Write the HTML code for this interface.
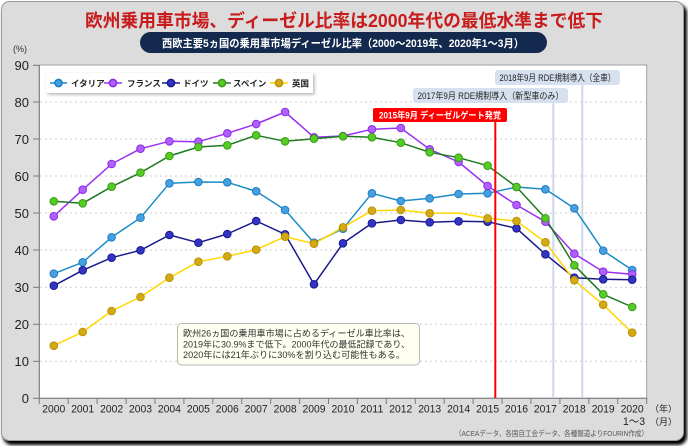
<!DOCTYPE html>
<html><head><meta charset="utf-8"><style>
html,body{margin:0;padding:0;background:#fff;}
svg{display:block;}
text{font-family:"Liberation Sans","Noto Sans CJK JP",sans-serif;}
</style></head><body>
<svg width="688" height="446" viewBox="0 0 688 446" xmlns="http://www.w3.org/2000/svg">
<defs>
<filter id="sh" x="-5%" y="-5%" width="110%" height="110%"><feGaussianBlur stdDeviation="1.5"/></filter>
<filter id="lsh" x="-10%" y="-30%" width="120%" height="160%"><feDropShadow dx="1.5" dy="1.5" stdDeviation="1.5" flood-color="#000" flood-opacity="0.3"/></filter>
</defs>
<rect x="3" y="4" width="684" height="441" rx="9" fill="#000" filter="url(#sh)"/>
<rect x="1.5" y="1.5" width="682" height="439" rx="8" fill="#dcdcdc" stroke="#9a9a9a"/>

<text x="344" y="27" text-anchor="middle" font-size="18" font-weight="bold" fill="#c81c1c" textLength="518" lengthAdjust="spacingAndGlyphs">欧州乗用車市場、ディーゼル比率は2000年代の最低水準まで低下</text>
<rect x="140" y="32" width="407" height="21" rx="10.5" fill="#13294e"/>
<text x="343" y="47" text-anchor="middle" font-size="11" font-weight="bold" fill="#fff" textLength="362" lengthAdjust="spacingAndGlyphs">西欧主要5ヵ国の乗用車市場ディーゼル比率（2000～2019年、2020年1～3月）</text>
<text x="13" y="52" font-size="9" fill="#333">(%)</text>

<rect x="39.3" y="65" width="607.4" height="333.3" fill="#fff" stroke="#a0a0a0" stroke-width="1"/>
<g stroke="#cfcfcf" stroke-dasharray="2,3" stroke-width="1">
<line x1="40" y1="102" x2="646" y2="102"/>
<line x1="40" y1="139" x2="646" y2="139"/>
<line x1="40" y1="176" x2="646" y2="176"/>
<line x1="40" y1="213" x2="646" y2="213"/>
<line x1="40" y1="250" x2="646" y2="250"/>
<line x1="40" y1="287.3" x2="646" y2="287.3"/>
<line x1="40" y1="324.3" x2="646" y2="324.3"/>
<line x1="40" y1="361.3" x2="646" y2="361.3"/>
</g>
<g stroke="#7a7a7a" stroke-width="1">
<line x1="39.3" y1="65" x2="39.3" y2="398.3"/>
<line x1="39.3" y1="398.3" x2="646.7" y2="398.3"/>
<line x1="33" y1="65.3" x2="39" y2="65.3"/>
<line x1="33" y1="102" x2="39" y2="102"/>
<line x1="33" y1="139" x2="39" y2="139"/>
<line x1="33" y1="176" x2="39" y2="176"/>
<line x1="33" y1="213" x2="39" y2="213"/>
<line x1="33" y1="250" x2="39" y2="250"/>
<line x1="33" y1="287.3" x2="39" y2="287.3"/>
<line x1="33" y1="324.3" x2="39" y2="324.3"/>
<line x1="33" y1="361.3" x2="39" y2="361.3"/>
<line x1="33" y1="398.3" x2="39" y2="398.3"/>
</g>
<g stroke="#7a7a7a" stroke-width="1">
<line x1="39.3" y1="398" x2="39.3" y2="404"/><line x1="68.2" y1="398" x2="68.2" y2="404"/><line x1="97.1" y1="398" x2="97.1" y2="404"/><line x1="126.1" y1="398" x2="126.1" y2="404"/><line x1="155" y1="398" x2="155" y2="404"/><line x1="183.9" y1="398" x2="183.9" y2="404"/><line x1="212.8" y1="398" x2="212.8" y2="404"/><line x1="241.7" y1="398" x2="241.7" y2="404"/><line x1="270.7" y1="398" x2="270.7" y2="404"/><line x1="299.6" y1="398" x2="299.6" y2="404"/><line x1="328.5" y1="398" x2="328.5" y2="404"/><line x1="357.4" y1="398" x2="357.4" y2="404"/><line x1="386.3" y1="398" x2="386.3" y2="404"/><line x1="415.3" y1="398" x2="415.3" y2="404"/><line x1="444.2" y1="398" x2="444.2" y2="404"/><line x1="473.1" y1="398" x2="473.1" y2="404"/><line x1="502" y1="398" x2="502" y2="404"/><line x1="530.9" y1="398" x2="530.9" y2="404"/><line x1="559.9" y1="398" x2="559.9" y2="404"/><line x1="588.8" y1="398" x2="588.8" y2="404"/><line x1="617.7" y1="398" x2="617.7" y2="404"/><line x1="646.7" y1="398" x2="646.7" y2="404"/>
</g>
<g font-size="13" fill="#222" text-anchor="end">
<text x="29" y="70">90</text><text x="29" y="107">80</text><text x="29" y="144">70</text><text x="29" y="181">60</text><text x="29" y="218">50</text><text x="29" y="255">40</text><text x="29" y="292">30</text><text x="29" y="329">20</text><text x="29" y="366">10</text><text x="29" y="403">0</text>
</g>
<g font-size="11" fill="#222" text-anchor="middle">
<text x="53.8" y="412.5" textLength="23" lengthAdjust="spacingAndGlyphs">2000</text>
<text x="82.7" y="412.5" textLength="23" lengthAdjust="spacingAndGlyphs">2001</text>
<text x="111.6" y="412.5" textLength="23" lengthAdjust="spacingAndGlyphs">2002</text>
<text x="140.5" y="412.5" textLength="23" lengthAdjust="spacingAndGlyphs">2003</text>
<text x="169.4" y="412.5" textLength="23" lengthAdjust="spacingAndGlyphs">2004</text>
<text x="198.4" y="412.5" textLength="23" lengthAdjust="spacingAndGlyphs">2005</text>
<text x="227.3" y="412.5" textLength="23" lengthAdjust="spacingAndGlyphs">2006</text>
<text x="256.2" y="412.5" textLength="23" lengthAdjust="spacingAndGlyphs">2007</text>
<text x="285.1" y="412.5" textLength="23" lengthAdjust="spacingAndGlyphs">2008</text>
<text x="314" y="412.5" textLength="23" lengthAdjust="spacingAndGlyphs">2009</text>
<text x="343" y="412.5" textLength="23" lengthAdjust="spacingAndGlyphs">2010</text>
<text x="371.9" y="412.5" textLength="23" lengthAdjust="spacingAndGlyphs">2011</text>
<text x="400.8" y="412.5" textLength="23" lengthAdjust="spacingAndGlyphs">2012</text>
<text x="429.7" y="412.5" textLength="23" lengthAdjust="spacingAndGlyphs">2013</text>
<text x="458.6" y="412.5" textLength="23" lengthAdjust="spacingAndGlyphs">2014</text>
<text x="487.6" y="412.5" textLength="23" lengthAdjust="spacingAndGlyphs">2015</text>
<text x="516.5" y="412.5" textLength="23" lengthAdjust="spacingAndGlyphs">2016</text>
<text x="545.4" y="412.5" textLength="23" lengthAdjust="spacingAndGlyphs">2017</text>
<text x="574.3" y="412.5" textLength="23" lengthAdjust="spacingAndGlyphs">2018</text>
<text x="603.2" y="412.5" textLength="23" lengthAdjust="spacingAndGlyphs">2019</text>
<text x="632.2" y="412.5" textLength="23" lengthAdjust="spacingAndGlyphs">2020</text>
</g>
<g font-size="9" fill="#222">
<text x="650" y="412">（年）</text>
<text x="623" y="425" font-size="11" textLength="22" lengthAdjust="spacingAndGlyphs">1～3</text>
<text x="650" y="425">（月）</text>
</g>
<text x="455" y="436" font-size="7.5" fill="#555" textLength="193" lengthAdjust="spacingAndGlyphs">（ACEAデータ、各国自工会データ、各種報道よりFOURIN作成）</text>

<!-- RDE lines -->
<line x1="553.3" y1="103" x2="553.3" y2="398" stroke="#cdd8ea" stroke-width="2"/>
<line x1="582.3" y1="85" x2="582.3" y2="398" stroke="#cdd8ea" stroke-width="2"/>
<rect x="495" y="70" width="125" height="15" rx="3" fill="#d6e0ee"/>
<text x="557.5" y="81" text-anchor="middle" font-size="9" fill="#222" textLength="116" lengthAdjust="spacingAndGlyphs">2018年9月 RDE規制導入（全車）</text>
<rect x="413" y="88" width="155" height="15" rx="3" fill="#d6e0ee"/>
<text x="490.5" y="99" text-anchor="middle" font-size="9" fill="#222" textLength="146" lengthAdjust="spacingAndGlyphs">2017年9月 RDE規制導入（新型車のみ）</text>

<!-- legend -->
<rect x="46" y="73" width="267" height="20" fill="#fff" filter="url(#lsh)"/>
<g stroke-width="1.5">
<line x1="50" y1="83" x2="67" y2="83" stroke="#1a8cc8"/><circle cx="58.5" cy="83" r="3.6" fill="#44a0e0" stroke="#1f7cc0"/>
<line x1="104" y1="83" x2="122" y2="83" stroke="#9b30f0"/><circle cx="113" cy="83" r="3.6" fill="#b060ff" stroke="#8a2be2"/>
<line x1="162" y1="83" x2="180" y2="83" stroke="#1a1a8c"/><circle cx="171" cy="83" r="3.6" fill="#3434c4" stroke="#1a1a90"/>
<line x1="213" y1="83" x2="231" y2="83" stroke="#1f7a1f"/><circle cx="222" cy="83" r="3.6" fill="#55cc22" stroke="#3a9a1a"/>
<line x1="270" y1="83" x2="288" y2="83" stroke="#ffd700"/><circle cx="279" cy="83" r="3.6" fill="#d4aa10" stroke="#b8900a"/>
</g>
<g font-size="8.5" font-weight="bold" fill="#222">
<text x="71" y="86.5">イタリア</text>
<text x="127" y="86.5">フランス</text>
<text x="183" y="86.5">ドイツ</text>
<text x="233" y="86.5">スペイン</text>
<text x="292" y="86.5">英国</text>
</g>

<!-- series -->
<g fill="none" stroke-width="1.5" stroke-linejoin="round">
<polyline stroke="#1a8cc8" points="53.8,273.7 82.7,262.3 111.6,237.3 140.5,217.7 169.4,183.3 198.4,182 227.3,182.3 256.2,191.3 285.1,210 314,242.7 343,228.7 371.9,193.3 400.8,201 429.7,198.3 458.6,194 487.6,193.3 516.5,187 545.4,189.3 574.3,208.3 603.2,250.7 632.2,270"/>
<polyline stroke="#9b30f0" points="53.8,216.3 82.7,189.7 111.6,164 140.5,148.7 169.4,141.3 198.4,141.7 227.3,133.3 256.2,124 285.1,112 314,137.3 343,136 371.9,129.3 400.8,128 429.7,149.3 458.6,162 487.6,186 516.5,205 545.4,221.7 574.3,253.7 603.2,271.7 632.2,274.3"/>
<polyline stroke="#1a1a8c" points="53.8,285.7 82.7,270.3 111.6,257.7 140.5,250.3 169.4,235 198.4,242.7 227.3,234 256.2,221 285.1,234.3 314,284.3 343,243.3 371.9,223.3 400.8,220 429.7,222.3 458.6,221.3 487.6,221.7 516.5,228.3 545.4,254.3 574.3,277.7 603.2,279.3 632.2,279.7"/>
<polyline stroke="#1f7a1f" points="53.8,201.3 82.7,203.3 111.6,186.7 140.5,172.7 169.4,156 198.4,147 227.3,145.3 256.2,135.3 285.1,141.3 314,138.7 343,136.3 371.9,137.3 400.8,142.7 429.7,152.3 458.6,157.7 487.6,165.7 516.5,187 545.4,218.3 574.3,265.3 603.2,294.3 632.2,307"/>
<polyline stroke="#ffd700" points="53.8,345.7 82.7,332 111.6,311 140.5,297 169.4,277.7 198.4,261.7 227.3,256.3 256.2,249.7 285.1,236.7 314,243.7 343,227.3 371.9,210.7 400.8,210 429.7,213.3 458.6,213 487.6,218.3 516.5,221 545.4,242.3 574.3,280.3 603.2,304.7 632.2,332.7"/>
</g>
<g fill="#44a0e0" stroke="#1f7cc0" stroke-width="1">
<circle cx="53.8" cy="273.7" r="3.8"/><circle cx="82.7" cy="262.3" r="3.8"/><circle cx="111.6" cy="237.3" r="3.8"/><circle cx="140.5" cy="217.7" r="3.8"/><circle cx="169.4" cy="183.3" r="3.8"/><circle cx="198.4" cy="182" r="3.8"/><circle cx="227.3" cy="182.3" r="3.8"/><circle cx="256.2" cy="191.3" r="3.8"/><circle cx="285.1" cy="210" r="3.8"/><circle cx="314" cy="242.7" r="3.8"/><circle cx="343" cy="228.7" r="3.8"/><circle cx="371.9" cy="193.3" r="3.8"/><circle cx="400.8" cy="201" r="3.8"/><circle cx="429.7" cy="198.3" r="3.8"/><circle cx="458.6" cy="194" r="3.8"/><circle cx="487.6" cy="193.3" r="3.8"/><circle cx="516.5" cy="187" r="3.8"/><circle cx="545.4" cy="189.3" r="3.8"/><circle cx="574.3" cy="208.3" r="3.8"/><circle cx="603.2" cy="250.7" r="3.8"/><circle cx="632.2" cy="270" r="3.8"/>
</g>
<g fill="#b060ff" stroke="#8a2be2" stroke-width="1">
<circle cx="53.8" cy="216.3" r="3.8"/><circle cx="82.7" cy="189.7" r="3.8"/><circle cx="111.6" cy="164" r="3.8"/><circle cx="140.5" cy="148.7" r="3.8"/><circle cx="169.4" cy="141.3" r="3.8"/><circle cx="198.4" cy="141.7" r="3.8"/><circle cx="227.3" cy="133.3" r="3.8"/><circle cx="256.2" cy="124" r="3.8"/><circle cx="285.1" cy="112" r="3.8"/><circle cx="314" cy="137.3" r="3.8"/><circle cx="343" cy="136" r="3.8"/><circle cx="371.9" cy="129.3" r="3.8"/><circle cx="400.8" cy="128" r="3.8"/><circle cx="429.7" cy="149.3" r="3.8"/><circle cx="458.6" cy="162" r="3.8"/><circle cx="487.6" cy="186" r="3.8"/><circle cx="516.5" cy="205" r="3.8"/><circle cx="545.4" cy="221.7" r="3.8"/><circle cx="574.3" cy="253.7" r="3.8"/><circle cx="603.2" cy="271.7" r="3.8"/><circle cx="632.2" cy="274.3" r="3.8"/>
</g>
<g fill="#3434c4" stroke="#1a1a90" stroke-width="1">
<circle cx="53.8" cy="285.7" r="3.8"/><circle cx="82.7" cy="270.3" r="3.8"/><circle cx="111.6" cy="257.7" r="3.8"/><circle cx="140.5" cy="250.3" r="3.8"/><circle cx="169.4" cy="235" r="3.8"/><circle cx="198.4" cy="242.7" r="3.8"/><circle cx="227.3" cy="234" r="3.8"/><circle cx="256.2" cy="221" r="3.8"/><circle cx="285.1" cy="234.3" r="3.8"/><circle cx="314" cy="284.3" r="3.8"/><circle cx="343" cy="243.3" r="3.8"/><circle cx="371.9" cy="223.3" r="3.8"/><circle cx="400.8" cy="220" r="3.8"/><circle cx="429.7" cy="222.3" r="3.8"/><circle cx="458.6" cy="221.3" r="3.8"/><circle cx="487.6" cy="221.7" r="3.8"/><circle cx="516.5" cy="228.3" r="3.8"/><circle cx="545.4" cy="254.3" r="3.8"/><circle cx="574.3" cy="277.7" r="3.8"/><circle cx="603.2" cy="279.3" r="3.8"/><circle cx="632.2" cy="279.7" r="3.8"/>
</g>
<g fill="#55cc22" stroke="#3a9a1a" stroke-width="1">
<circle cx="53.8" cy="201.3" r="3.8"/><circle cx="82.7" cy="203.3" r="3.8"/><circle cx="111.6" cy="186.7" r="3.8"/><circle cx="140.5" cy="172.7" r="3.8"/><circle cx="169.4" cy="156" r="3.8"/><circle cx="198.4" cy="147" r="3.8"/><circle cx="227.3" cy="145.3" r="3.8"/><circle cx="256.2" cy="135.3" r="3.8"/><circle cx="285.1" cy="141.3" r="3.8"/><circle cx="314" cy="138.7" r="3.8"/><circle cx="343" cy="136.3" r="3.8"/><circle cx="371.9" cy="137.3" r="3.8"/><circle cx="400.8" cy="142.7" r="3.8"/><circle cx="429.7" cy="152.3" r="3.8"/><circle cx="458.6" cy="157.7" r="3.8"/><circle cx="487.6" cy="165.7" r="3.8"/><circle cx="516.5" cy="187" r="3.8"/><circle cx="545.4" cy="218.3" r="3.8"/><circle cx="574.3" cy="265.3" r="3.8"/><circle cx="603.2" cy="294.3" r="3.8"/><circle cx="632.2" cy="307" r="3.8"/>
</g>
<g fill="#d4aa10" stroke="#b8900a" stroke-width="1">
<circle cx="53.8" cy="345.7" r="3.8"/><circle cx="82.7" cy="332" r="3.8"/><circle cx="111.6" cy="311" r="3.8"/><circle cx="140.5" cy="297" r="3.8"/><circle cx="169.4" cy="277.7" r="3.8"/><circle cx="198.4" cy="261.7" r="3.8"/><circle cx="227.3" cy="256.3" r="3.8"/><circle cx="256.2" cy="249.7" r="3.8"/><circle cx="285.1" cy="236.7" r="3.8"/><circle cx="314" cy="243.7" r="3.8"/><circle cx="343" cy="227.3" r="3.8"/><circle cx="371.9" cy="210.7" r="3.8"/><circle cx="400.8" cy="210" r="3.8"/><circle cx="429.7" cy="213.3" r="3.8"/><circle cx="487.6" cy="218.3" r="3.8"/><circle cx="516.5" cy="221" r="3.8"/><circle cx="545.4" cy="242.3" r="3.8"/><circle cx="574.3" cy="280.3" r="3.8"/><circle cx="603.2" cy="304.7" r="3.8"/><circle cx="632.2" cy="332.7" r="3.8"/>
</g>

<!-- dieselgate -->
<line x1="495.3" y1="121" x2="495.3" y2="398" stroke="#ff0000" stroke-width="2"/>
<rect x="373" y="108" width="134" height="14" rx="2" fill="#ff0000"/>
<text x="440" y="118.5" text-anchor="middle" font-size="9" font-weight="bold" fill="#fff" textLength="122" lengthAdjust="spacingAndGlyphs">2015年9月 ディーゼルゲート発覚</text>

<!-- note -->
<rect x="177.5" y="323.5" width="242" height="41.5" rx="4" fill="#fffff2" stroke="#b8b8b8"/>
<g font-size="9.2" fill="#333">
<text x="183" y="336.5" textLength="227" lengthAdjust="spacingAndGlyphs">欧州26ヵ国の乗用車市場に占めるディーゼル車比率は、</text>
<text x="183" y="347.5" textLength="227" lengthAdjust="spacingAndGlyphs">2019年に30.9%まで低下。2000年代の最低記録であり、</text>
<text x="183" y="358" textLength="222" lengthAdjust="spacingAndGlyphs">2020年には21年ぶりに30%を割り込む可能性もある。</text>
</g>
</svg>
</body></html>
